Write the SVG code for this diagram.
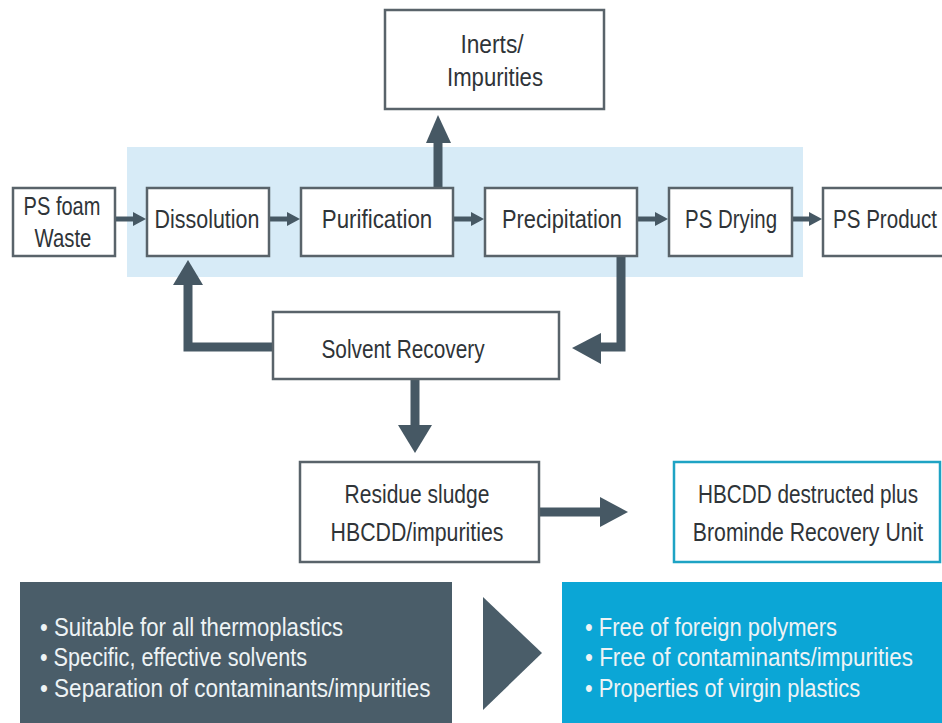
<svg xmlns="http://www.w3.org/2000/svg" width="942" height="723" viewBox="0 0 942 723">
  <style>
    .box { fill: #ffffff; stroke: #59636a; stroke-width: 2.5; }
    .hb { fill: #ffffff; stroke: #1ea3c4; stroke-width: 2.5; }
    .lbl { font-family: "Liberation Sans", Arial, sans-serif; font-size: 25px; fill: #2f3438; text-anchor: middle; }
    .blt { font-family: "Liberation Sans", Arial, sans-serif; font-size: 26px; fill: #eef3f5; }
    .pipe { fill: none; stroke: #465864; stroke-width: 9; }
    .thin { fill: none; stroke: #465864; stroke-width: 5; }
    .head { fill: #465864; }
  </style>
  <rect width="942" height="723" fill="#ffffff"/>

  <!-- shaded process band -->
  <rect x="127" y="147" width="676" height="130" fill="#d7ebf7"/>

  <!-- connectors -->
  <g id="connectors">
    <!-- main line small arrows -->
    <line class="thin" x1="115" y1="219" x2="134" y2="219"/>
    <polygon class="head" points="133,212 146,219 133,226"/>
    <line class="thin" x1="269" y1="219" x2="288" y2="219"/>
    <polygon class="head" points="287,212 300,219 287,226"/>
    <line class="thin" x1="453" y1="219" x2="472" y2="219"/>
    <polygon class="head" points="471,212 484,219 471,226"/>
    <line class="thin" x1="637" y1="219" x2="656" y2="219"/>
    <polygon class="head" points="655,212 668,219 655,226"/>
    <line class="thin" x1="792" y1="219" x2="810" y2="219"/>
    <polygon class="head" points="809,212 822,219 809,226"/>

    <!-- purification to inerts -->
    <line class="pipe" x1="438" y1="188" x2="438" y2="140"/>
    <polygon class="head" points="426,143 438,115 451,143"/>

    <!-- precipitation to solvent recovery -->
    <polyline class="pipe" points="621,256 621,347 598,347"/>
    <polygon class="head" points="601,333 572,348 601,364"/>

    <!-- solvent recovery back to dissolution -->
    <polyline class="pipe" points="273,347 188,347 188,282"/>
    <polygon class="head" points="173,285 188,260 203,285"/>

    <!-- solvent recovery to residue sludge -->
    <line class="pipe" x1="415" y1="379" x2="415" y2="428"/>
    <polygon class="head" points="398,425 415,453 432,425"/>

    <!-- residue to HBCDD unit -->
    <line class="pipe" x1="539" y1="512" x2="603" y2="512"/>
    <polygon class="head" points="600,497 628,512 600,527"/>
  </g>

  <!-- labels use a condensed (0.8 horizontal) rendering of Liberation Sans -->
  <g id="ps-foam-waste">
    <rect class="box" x="13" y="188" width="102" height="68"/>
    <text class="lbl" transform="matrix(0.8 0 0 1 62 215)" textLength="96" lengthAdjust="spacingAndGlyphs">PS foam</text>
    <text class="lbl" transform="matrix(0.8 0 0 1 63 247)" textLength="71" lengthAdjust="spacingAndGlyphs">Waste</text>
  </g>

  <g id="dissolution">
    <rect class="box" x="147" y="188" width="122" height="68"/>
    <text class="lbl" transform="matrix(0.8 0 0 1 207 228)" textLength="131" lengthAdjust="spacingAndGlyphs">Dissolution</text>
  </g>

  <g id="purification">
    <rect class="box" x="301" y="188" width="152" height="68"/>
    <text class="lbl" transform="matrix(0.8 0 0 1 377 228)" textLength="138" lengthAdjust="spacingAndGlyphs">Purification</text>
  </g>

  <g id="precipitation">
    <rect class="box" x="485" y="188" width="152" height="68"/>
    <text class="lbl" transform="matrix(0.8 0 0 1 562 228)" textLength="150" lengthAdjust="spacingAndGlyphs">Precipitation</text>
  </g>

  <g id="ps-drying">
    <rect class="box" x="669" y="188" width="123" height="68"/>
    <text class="lbl" transform="matrix(0.8 0 0 1 731 228)" textLength="115" lengthAdjust="spacingAndGlyphs">PS Drying</text>
  </g>

  <g id="ps-product">
    <rect class="box" x="823" y="188" width="125" height="68"/>
    <text class="lbl" transform="matrix(0.8 0 0 1 885 228)" textLength="130" lengthAdjust="spacingAndGlyphs">PS Product</text>
  </g>

  <g id="inerts">
    <rect class="box" x="385" y="10" width="219" height="99"/>
    <text class="lbl" transform="matrix(0.8 0 0 1 492 53)" textLength="79" lengthAdjust="spacingAndGlyphs">Inerts/</text>
    <text class="lbl" transform="matrix(0.8 0 0 1 495 86)" textLength="120" lengthAdjust="spacingAndGlyphs">Impurities</text>
  </g>

  <g id="solvent-recovery">
    <rect class="box" x="273" y="312" width="286" height="67"/>
    <text class="lbl" transform="matrix(0.8 0 0 1 403 358)" textLength="204" lengthAdjust="spacingAndGlyphs">Solvent Recovery</text>
  </g>

  <g id="residue-sludge">
    <rect class="box" x="300" y="462" width="239" height="100"/>
    <text class="lbl" transform="matrix(0.8 0 0 1 417 503)" textLength="181" lengthAdjust="spacingAndGlyphs">Residue sludge</text>
    <text class="lbl" transform="matrix(0.8 0 0 1 417 541)" textLength="216" lengthAdjust="spacingAndGlyphs">HBCDD/impurities</text>
  </g>

  <g id="hbcdd-unit">
    <rect class="hb" x="674" y="462" width="266" height="100"/>
    <text class="lbl" transform="matrix(0.8 0 0 1 808 503)" textLength="275" lengthAdjust="spacingAndGlyphs">HBCDD destructed plus</text>
    <text class="lbl" transform="matrix(0.8 0 0 1 808 541)" textLength="288" lengthAdjust="spacingAndGlyphs">Brominde Recovery Unit</text>
  </g>

  <!-- summary panels -->
  <g id="process-features">
    <rect x="20" y="582" width="432" height="141" fill="#4a5d69"/>
    <text class="blt" transform="matrix(0.8 0 0 1 40 636)" textLength="379" lengthAdjust="spacingAndGlyphs">• Suitable for all thermoplastics</text>
    <text class="blt" transform="matrix(0.8 0 0 1 40 666)" textLength="334" lengthAdjust="spacingAndGlyphs">• Specific, effective solvents</text>
    <text class="blt" transform="matrix(0.8 0 0 1 40 697)" textLength="488" lengthAdjust="spacingAndGlyphs">• Separation of contaminants/impurities</text>
  </g>

  <g id="panel-arrow">
    <polygon points="483,597 542,653 483,710" fill="#4a5d69"/>
  </g>

  <g id="product-features">
    <rect x="562" y="582" width="380" height="141" fill="#0ba6d6"/>
    <text class="blt" transform="matrix(0.8 0 0 1 585 636)" textLength="315" lengthAdjust="spacingAndGlyphs">• Free of foreign polymers</text>
    <text class="blt" transform="matrix(0.8 0 0 1 585 666)" textLength="410" lengthAdjust="spacingAndGlyphs">• Free of contaminants/impurities</text>
    <text class="blt" transform="matrix(0.8 0 0 1 585 697)" textLength="344" lengthAdjust="spacingAndGlyphs">• Properties of virgin plastics</text>
  </g>
</svg>
